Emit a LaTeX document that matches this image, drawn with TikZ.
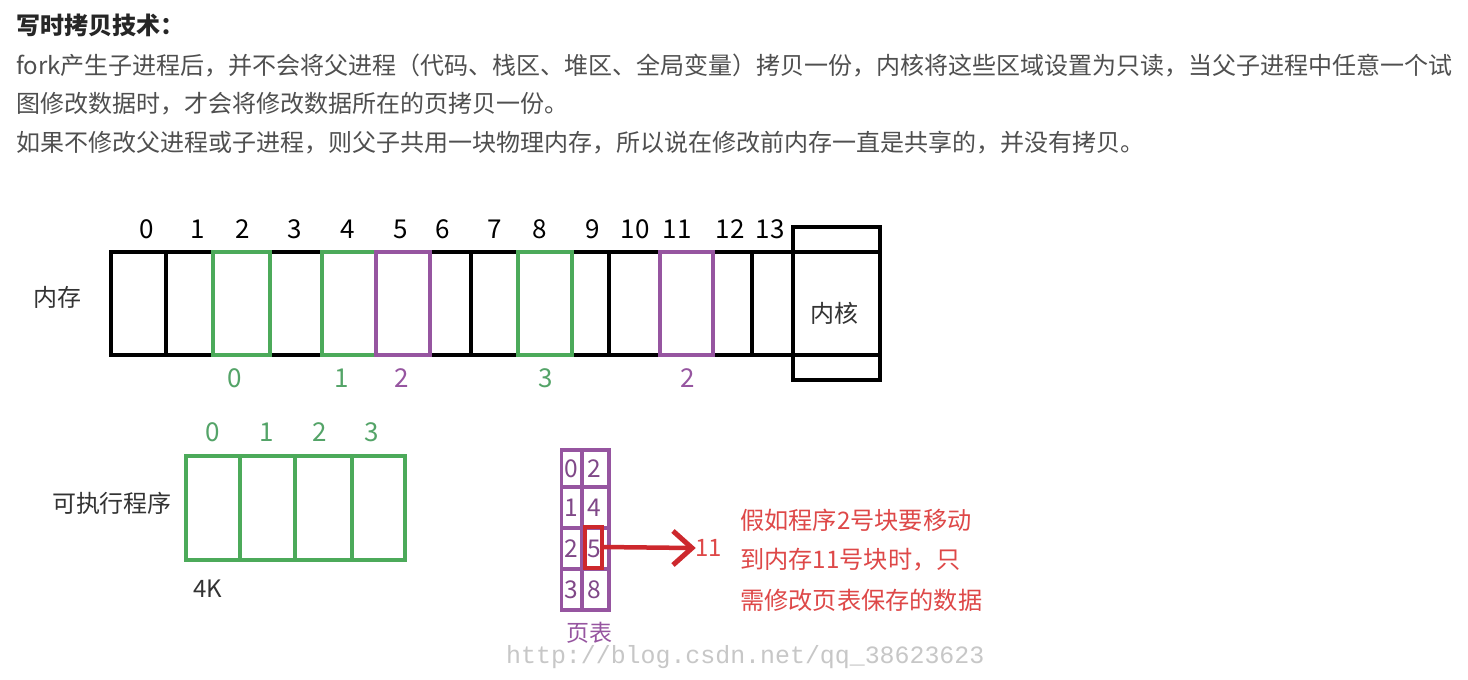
\documentclass[tikz,border=0pt]{standalone}
\usepackage{fontspec}
\setmainfont{Noto Sans CJK SC}
\newfontfamily\wmfont{Liberation Mono}
\usetikzlibrary{arrows.meta}
\definecolor{memgreen}{RGB}{76,170,90}
\definecolor{labgreen}{RGB}{84,164,104}
\definecolor{mempurple}{RGB}{150,85,160}
\definecolor{arrred}{RGB}{205,40,45}
\definecolor{txtred}{RGB}{222,72,72}
\definecolor{bodygray}{RGB}{79,79,79}
\begin{document}
\begin{tikzpicture}[x=1pt,y=-1pt,
  body/.style={anchor=west,inner sep=0pt,text=bodygray,font=\fontsize{24}{28}\selectfont},
  memcell/.style={draw,line width=4pt,minimum height=103pt,inner sep=0pt,outer sep=0pt},
  execcell/.style={draw=memgreen,line width=4pt,minimum height=104.5pt,inner sep=0pt,outer sep=0pt},
  ptcell/.style={draw=mempurple,line width=3.5pt,inner sep=0pt,outer sep=0pt,text=mempurple!85!black,font=\fontsize{24.5}{28}\selectfont},
  toplab/.style={inner sep=0pt,font=\fontsize{26}{30}\selectfont,text=black},
  lab/.style={inner sep=0pt,font=\fontsize{24}{28}\selectfont},
  redtxt/.style={anchor=west,inner sep=0pt,text=txtred,font=\fontsize{24.2}{28}\selectfont}]
\useasboundingbox (0,0) rectangle (1468,680);
\fill[white] (0,0) rectangle (1468,680);
% header text
\node[body,text=black!85,font=\fontsize{24}{28}\selectfont\bfseries] (title) at (16,25) {写时拷贝技术：};
\node[body] (l1) at (16,66) {fork产生子进程后，并不会将父进程（代码、栈区、堆区、全局变量）拷贝一份，内核将这些区域设置为只读，当父子进程中任意一个试};
\node[body] (l2) at (16,104) {图修改数据时，才会将修改数据所在的页拷贝一份。};
\node[body] (l3) at (16,143) {如果不修改父进程或子进程，则父子共用一块物理内存，所以说在修改前内存一直是共享的，并没有拷贝。};
% memory cells
\foreach \i/\l/\r in {0/111/166,1/166/213,3/270/322,6/430/471,7/471/518,9/572/609,10/609/660,12/713/752,13/752/793}
  \node[memcell,minimum width={(\r-\l)*1pt}] (m\i) at ({(\l+\r)/2},303.5) {};
\foreach \i/\l/\r/\c in {2/213/270/memgreen,4/322/376/memgreen,8/518/572/memgreen,5/376/430/mempurple,11/660/713/mempurple}
  \node[memcell,draw=\c,minimum width={(\r-\l)*1pt}] (m\i) at ({(\l+\r)/2},303.5) {};
% kernel
\node[draw,line width=4pt,minimum width=87pt,minimum height=153pt,inner sep=0pt,outer sep=0pt] (kern) at (836.5,303.5) {};
\draw[line width=4pt] (kern.west |- m13.north) -- (kern.east |- m13.north);
\draw[line width=4pt] (kern.west |- m13.south) -- (kern.east |- m13.south);
\node[lab,text=black!80] (kernlab) at (834,313) {内核};
\node[lab,text=black!80] (memlab) at (58,297) {内存};
% top numbers
\foreach \n/\x in {0/147,1/198,2/243,3/295,4/348,5/401,6/443,7/495,8/540,9/593,10/635,11/677,12/730,13/770}
  \node[toplab] (t\n) at (\x,229) {\n};
% bottom numbers
\node[lab,text=labgreen,font=\fontsize{26}{30}\selectfont] (b0) at (235,378) {0};
\node[lab,text=labgreen,font=\fontsize{26}{30}\selectfont] (b1) at (342,378) {1};
\node[lab,text=mempurple,font=\fontsize{26}{30}\selectfont] (b2) at (402,378) {2};
\node[lab,text=labgreen,font=\fontsize{26}{30}\selectfont] (b3) at (546,378) {3};
\node[lab,text=mempurple,font=\fontsize{26}{30}\selectfont] (b4) at (688,378) {2};
% executable program
\foreach \i/\l/\r in {0/186/240,1/240/295,2/295/352,3/352/405}
  \node[execcell,minimum width={(\r-\l)*1pt}] (e\i) at ({(\l+\r)/2},507.75) {};
\foreach \n/\x in {0/213,1/267,2/320,3/372}
  \node[lab,text=labgreen,font=\fontsize{26}{30}\selectfont] (et\n) at (\x,432) {\n};
\node[lab,text=black!80] (execlab) at (112,503) {可执行程序};
\node[lab,text=black!80] (fourk) at (208,589) {4K};
% page table
\foreach \r/\t/\b/\a/\v in {0/450/487/0/2,1/487/528/1/4,2/528/569/2/5,3/569/610/3/8}{
  \node[ptcell,minimum width=20.5pt,minimum height={(\b-\t)*1pt}] (pl\r) at (571.75,{(\t+\b)/2}) {\a};
  \node[ptcell,minimum width=27pt,minimum height={(\b-\t)*1pt}] (pr\r) at (595.5,{(\t+\b)/2}) {\hspace*{-3pt}\v};
}
\node[draw=arrred,line width=4pt,minimum width=17pt,minimum height=41pt,inner sep=0pt,outer sep=0pt] (red5) at (593.5,547) {};
\node[lab,text=txtred,font=\fontsize{24}{26}\selectfont,anchor=west] (eleven) at (695,548) {11};
\coordinate (tip) at ([xshift=-3pt]eleven.west);
\draw[arrred,line width=4.5pt] (red5.east) -- (tip);
\draw[arrred,line width=5pt,line join=miter,line cap=butt] ([shift={(-19pt,-17pt)}]tip) -- (tip) -- ([shift={(-19pt,17pt)}]tip);
\node[lab,text=mempurple,font=\fontsize{23}{26}\selectfont] (ptlab) at (589,633) {页表};
% red explanation
\node[redtxt] (r1) at (740,520) {假如程序2号块要移动};
\node[redtxt] (r2) at (740,560) {到内存11号块时，只};
\node[redtxt] (r3) at (740,600) {需修改页表保存的数据};
% watermark
\node[inner sep=0pt,anchor=west,text=black!22,font=\wmfont\fontsize{24.9}{28}\selectfont] (wm) at (506,657) {http://blog.csdn.net/qq\_38623623};
\end{tikzpicture}
\end{document}
